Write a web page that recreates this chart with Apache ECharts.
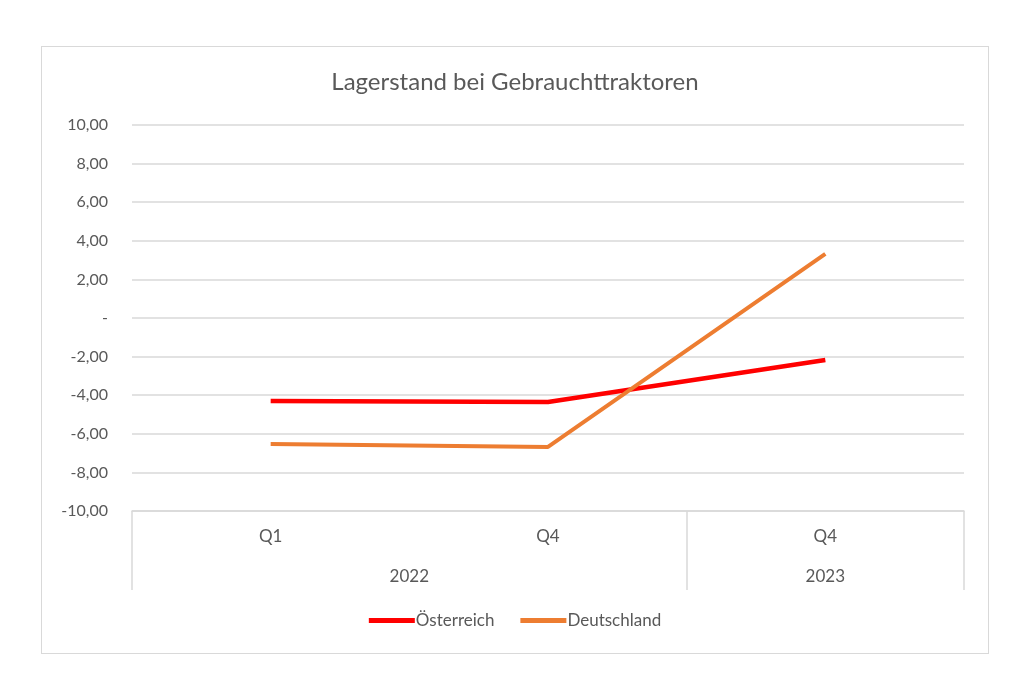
<!DOCTYPE html>
<html>
<head>
<meta charset="utf-8">
<title>Lagerstand bei Gebrauchttraktoren</title>
<script src="https://cdn.jsdelivr.net/npm/echarts@6/dist/echarts.min.js"></script>
<style>
    html, body { margin: 0; padding: 0; background: #fff; }
    #box {
        position: absolute; left: 41px; top: 46px;
        width: 946px; height: 606px;
        border: 1px solid #d9d9d9; background: #fff;
    }
    #chart { width: 946px; height: 606px; }
</style>
</head>
<body>
<div id="box"><div id="chart"></div></div>
<script>
(function () {

    'use strict';

    // Kategorien (erste Ebene) und Jahre (zweite Ebene)
    var quarters = ['Q1', 'Q4', 'Q4'],
        years = ['2022', '2023'],
        // wie viele Quartale zu jedem Jahr gehören
        yearSpan = [2, 1],
        // Werte
        oesterreich = [-4.30, -4.35, -2.18],
        deutschland = [-6.53, -6.68, 3.32],
        yTicks = [-10, -8, -6, -4, -2, 0, 2, 4, 6, 8, 10];

    var textColor = '#595959',
        gridColor = '#d9d9d9',
        font = 'Lato, "Open Sans", sans-serif';

    // Mitte jeder Jahresgruppe auf einer 0..n Skala
    var yearCenter = {}, pos = 0;
    years.forEach(function (y, i) {
        yearCenter[(pos + yearSpan[i] / 2).toFixed(2)] = y;
        pos += yearSpan[i];
    });

    var myChart = echarts.init(document.getElementById('chart'));

    var option = {
        animation: false,
        title: {
            text: 'Lagerstand bei Gebrauchttraktoren',
            left: 'center',
            top: 18,
            textStyle: { color: textColor, fontSize: 24, fontWeight: 'normal', fontFamily: font }
        },
        legend: {
            bottom: 19,
            left: 'center',
            itemWidth: 46,
            itemHeight: 5,
            itemGap: 26,
            icon: 'rect',
            textStyle: { color: textColor, fontSize: 17, fontFamily: font, padding: [0, 0, 0, -4] },
            data: ['Österreich', 'Deutschland']
        },
        grid: { left: 90, right: 24, top: 78, bottom: 142 },
        xAxis: [{
            type: 'category',
            data: quarters,
            boundaryGap: true,
            axisLine: { onZero: false, lineStyle: { color: gridColor, width: 1.5 } },
            axisTick: {
                show: true,
                length: 79,
                lineStyle: { color: gridColor, width: 1.5 },
                // nur an den Jahresgrenzen
                interval: function (index) {
                    var s = 0;
                    for (var i = 0; i < yearSpan.length; i++) {
                        if (index === s) return true;
                        s += yearSpan[i];
                    }
                    return index >= quarters.length;
                }
            },
            axisLabel: { color: textColor, fontSize: 17, fontFamily: font, margin: 17 }
        }, {
            type: 'value',
            position: 'bottom',
            min: 0,
            max: quarters.length,
            interval: 0.5,
            offset: 40,
            axisLine: { show: false, onZero: false },
            axisTick: { show: false },
            splitLine: { show: false },
            axisLabel: {
                color: textColor, fontSize: 17, fontFamily: font, margin: 17,
                showMinLabel: true, showMaxLabel: true,
                formatter: function (v) {
                    return yearCenter[v.toFixed(2)] || '';
                }
            }
        }],
        yAxis: {
            type: 'value',
            min: yTicks[0],
            max: yTicks[yTicks.length - 1],
            interval: 2,
            axisLine: { show: false },
            axisTick: { show: false },
            splitLine: { lineStyle: { color: gridColor, width: 1.5 } },
            axisLabel: {
                color: textColor, fontSize: 16, fontFamily: font, margin: 24,
                formatter: function (v) {
                    if (v === 0) return '-';
                    return v.toFixed(2).replace('.', ',');
                }
            }
        },
        series: [{
            name: 'Österreich',
            type: 'line',
            data: oesterreich,
            showSymbol: false,
            symbol: 'none',
            itemStyle: { color: '#ff0000' },
            lineStyle: { color: '#ff0000', width: 4.5 }
        }, {
            name: 'Deutschland',
            type: 'line',
            data: deutschland,
            showSymbol: false,
            symbol: 'none',
            itemStyle: { color: '#ed7d31' },
            lineStyle: { color: '#ed7d31', width: 4 }
        }]
    };

    myChart.setOption(option);
})();
</script>
</body>
</html>
